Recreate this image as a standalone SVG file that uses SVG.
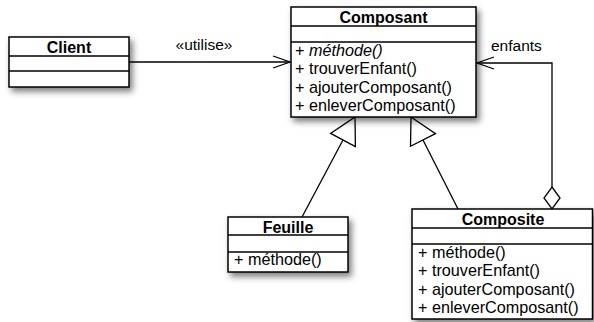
<svg xmlns="http://www.w3.org/2000/svg" width="594" height="322" viewBox="0 0 594 322">
<style>
.box{fill:#fff;stroke:#000;stroke-width:1.5}
.div{stroke:#000;stroke-width:1.3}
.t{font-family:"Liberation Sans",Arial,sans-serif;font-size:16.2px;fill:#000}
.b{font-weight:bold;text-anchor:middle;font-size:16px}
.lbl{font-family:"Liberation Sans",Arial,sans-serif;font-size:15.5px;fill:#000}
.ln{fill:none;stroke:#000;stroke-width:1.3}
.tri{fill:#fff;stroke:#000;stroke-width:1.3}
</style>
<defs>
<filter id="sh" x="-20%" y="-20%" width="150%" height="160%">
<feDropShadow dx="3" dy="4" stdDeviation="3" flood-color="#000" flood-opacity="0.5"/>
</filter>
</defs>
<g id="connectors">
<path class="ln" d="M129,62 H290"/>
<path class="ln" d="M273,56 L290,62 L273,68"/>
<path class="ln" d="M552,187 V63 H477"/>
<path class="ln" d="M494,57 L477,63 L494,69"/>
<path class="tri" d="M552,187 L560,198 L552,209 L544,198 Z"/>
<path class="ln" d="M302,217 L343,140"/>
<path class="tri" d="M355,117 L355.4,146.6 L330.6,133.4 Z"/>
<path class="ln" d="M458,209 L423,140"/>
<path class="tri" d="M411,117 L435.5,133.7 L410.5,146.3 Z"/>
</g>
<g id="client">
<rect class="box" x="9" y="37" width="120" height="50" filter="url(#sh)"/>
<line class="div" x1="9" y1="56" x2="129" y2="56"/>
<line class="div" x1="9" y1="71" x2="129" y2="71"/>
<text class="t b" x="69" y="52.5">Client</text>
</g>
<text class="lbl" x="204" y="50" text-anchor="middle">«utilise»</text>
<text class="lbl" x="491" y="51">enfants</text>
<g id="composant">
<rect class="box" x="291" y="7" width="185" height="110" filter="url(#sh)"/>
<line class="div" x1="291" y1="26" x2="476" y2="26"/>
<line class="div" x1="291" y1="42" x2="476" y2="42"/>
<text class="t b" x="383.5" y="22.5">Composant</text>
<text class="t" x="295" y="55.5">+ <tspan font-style="italic">méthode()</tspan></text>
<text class="t" x="295" y="74">+ trouverEnfant()</text>
<text class="t" x="295" y="92.5">+ ajouterComposant()</text>
<text class="t" x="295" y="110.5">+ enleverComposant()</text>
</g>
<g id="feuille">
<rect class="box" x="228" y="217" width="120" height="55" filter="url(#sh)"/>
<line class="div" x1="228" y1="235" x2="348" y2="235"/>
<line class="div" x1="228" y1="252" x2="348" y2="252"/>
<text class="t b" x="288" y="233">Feuille</text>
<text class="t" x="234" y="264.5">+ méthode()</text>
</g>
<g id="composite">
<rect class="box" x="412" y="209" width="180.5" height="110" filter="url(#sh)"/>
<line class="div" x1="412" y1="228" x2="592.5" y2="228"/>
<line class="div" x1="412" y1="244" x2="592.5" y2="244"/>
<text class="t b" x="503" y="225">Composite</text>
<text class="t" x="418" y="257.5">+ méthode()</text>
<text class="t" x="418" y="276">+ trouverEnfant()</text>
<text class="t" x="418" y="294.5">+ ajouterComposant()</text>
<text class="t" x="418" y="312.5">+ enleverComposant()</text>
</g>
</svg>
